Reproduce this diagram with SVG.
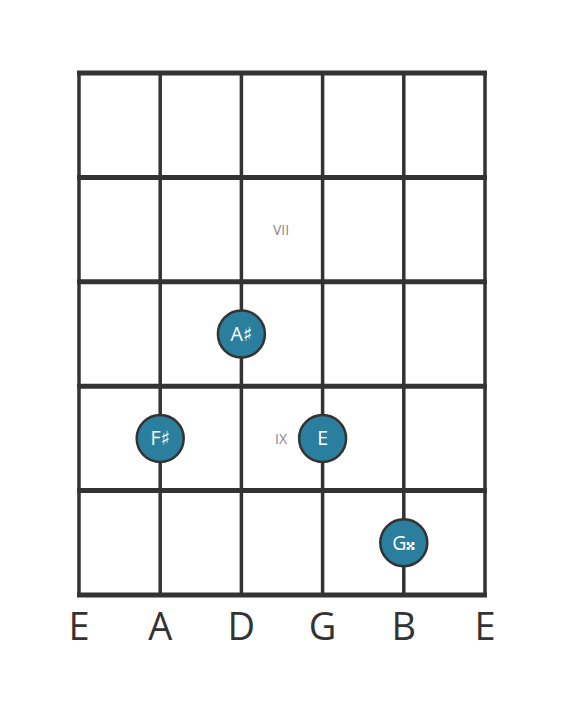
<svg xmlns="http://www.w3.org/2000/svg" width="566" height="711" viewBox="0 0 566 711">
<style>
.fret{stroke:#333;stroke-width:5;}
.str{stroke:#333;stroke-width:3.5;}
.dot circle{fill:#2a7f9e;stroke:#333;stroke-width:2.5;}
.dot text{fill:#fff;font-family:"Open Sans","DejaVu Sans",sans-serif;font-size:19.5px;text-anchor:middle;}
.pos{fill:#888;font-family:"Open Sans","DejaVu Sans",sans-serif;font-size:14px;text-anchor:middle;}
.lbl{fill:#333;font-family:"Open Sans","DejaVu Sans",sans-serif;font-size:38px;text-anchor:middle;}
</style>
<rect width="566" height="711" fill="#fff"/>
<g id="connectors">
<line class="str" x1="79" y1="71" x2="79" y2="597"/>
<line class="str" x1="160.2" y1="71" x2="160.2" y2="597"/>
<line class="str" x1="241.4" y1="71" x2="241.4" y2="597"/>
<line class="str" x1="322.6" y1="71" x2="322.6" y2="597"/>
<line class="str" x1="403.8" y1="71" x2="403.8" y2="597"/>
<line class="str" x1="485" y1="71" x2="485" y2="597"/>
<line class="fret" x1="77" y1="73" x2="487" y2="73"/>
<line class="fret" x1="77" y1="177.4" x2="487" y2="177.4"/>
<line class="fret" x1="77" y1="281.8" x2="487" y2="281.8"/>
<line class="fret" x1="77" y1="386.2" x2="487" y2="386.2"/>
<line class="fret" x1="77" y1="490.6" x2="487" y2="490.6"/>
<line class="fret" x1="77" y1="595" x2="487" y2="595"/>
</g>
<g id="pos-vii"><text class="pos" x="281" y="235">VII</text></g>
<g id="pos-ix"><text class="pos" x="281" y="443.5">IX</text></g>
<g id="note-asharp" class="dot"><circle cx="241.4" cy="334" r="23.5"/><text x="241.4" y="341">A♯</text></g>
<g id="note-fsharp" class="dot"><circle cx="160.2" cy="438.4" r="23.5"/><text x="160.2" y="445.4">F♯</text></g>
<g id="note-e" class="dot"><circle cx="322.6" cy="438.4" r="23.5"/><text x="322.6" y="445.4">E</text></g>
<g id="note-gx" class="dot"><circle cx="403.8" cy="542.8" r="23.5"/><text x="403.8" y="550">G&#x1D12A;</text></g>
<g id="labels">
<text class="lbl" x="79" y="640">E</text>
<text class="lbl" x="160.2" y="640">A</text>
<text class="lbl" x="241.4" y="640">D</text>
<text class="lbl" x="322.6" y="640">G</text>
<text class="lbl" x="403.8" y="640">B</text>
<text class="lbl" x="485" y="640">E</text>
</g>
</svg>
